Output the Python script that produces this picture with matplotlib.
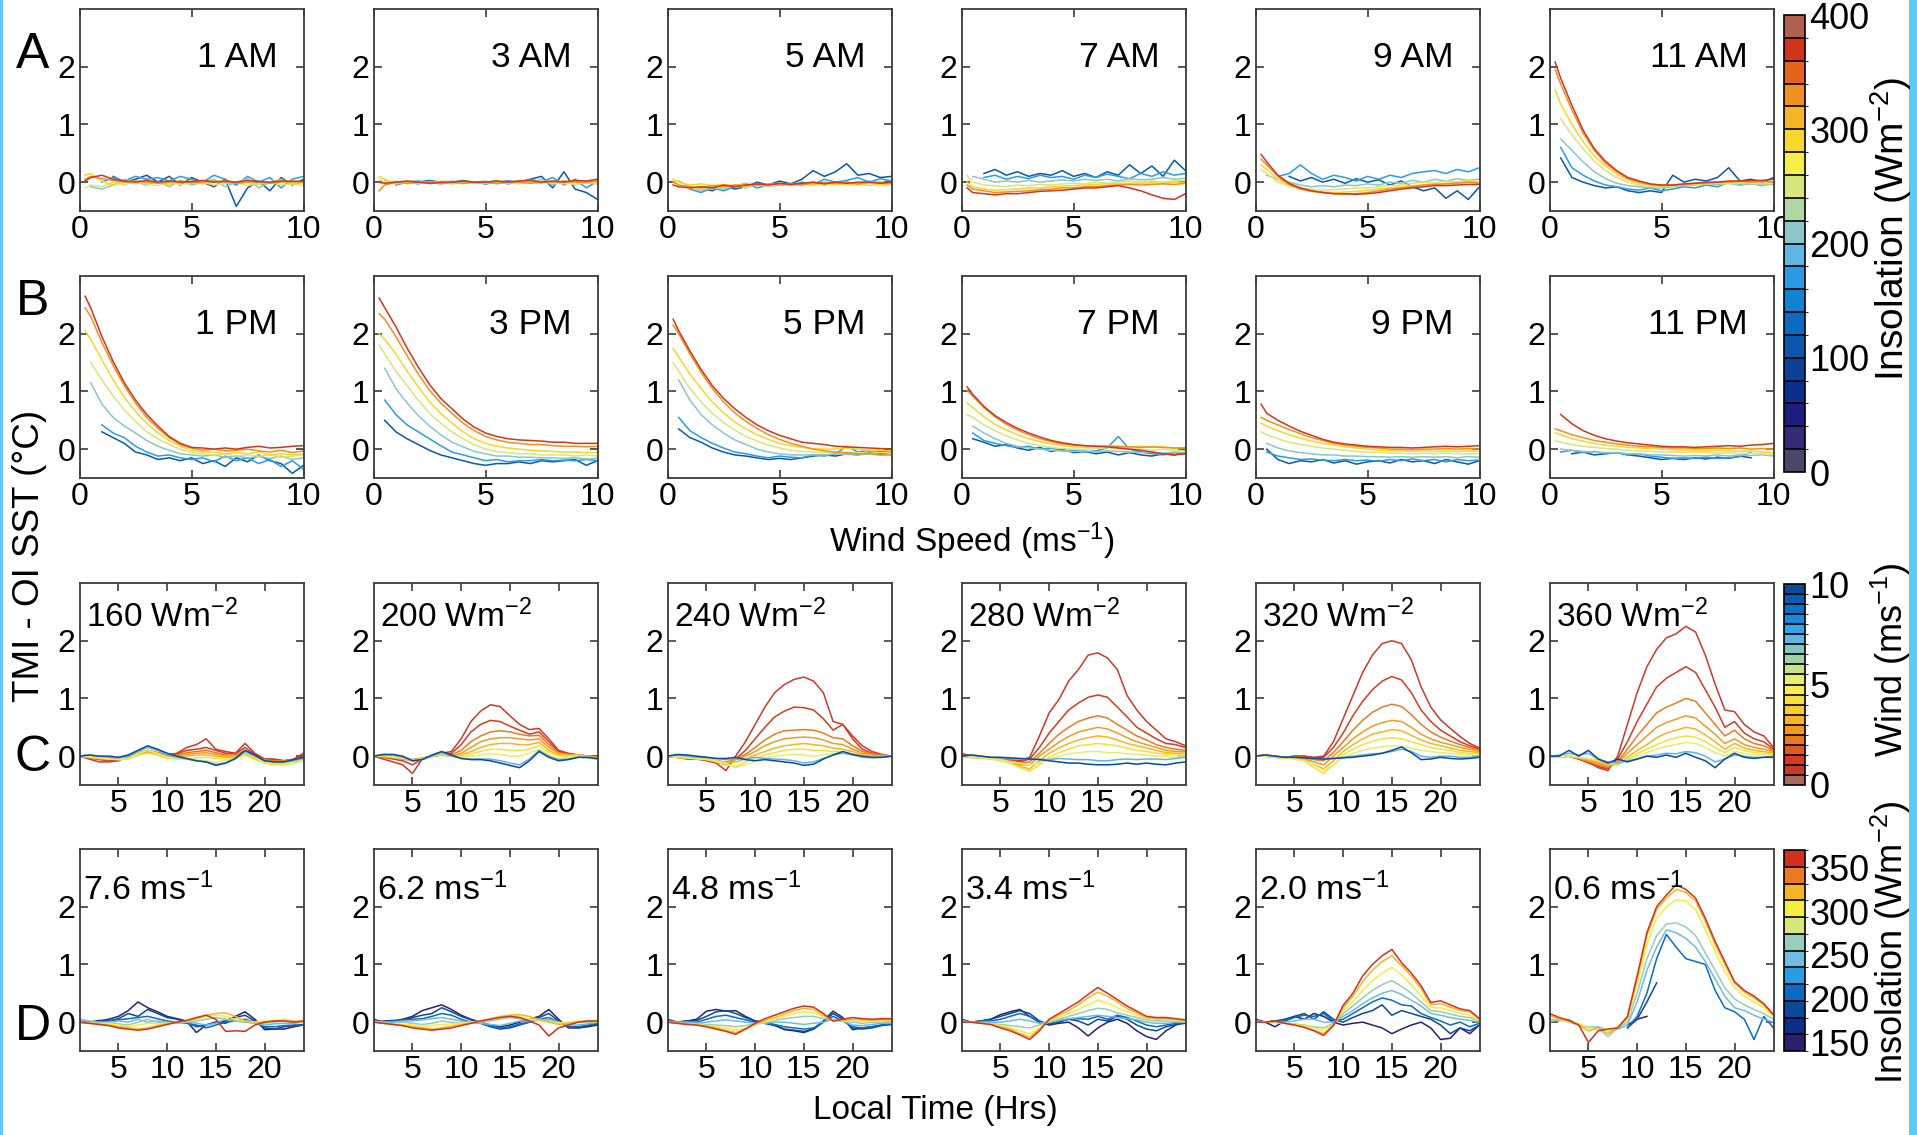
import matplotlib
matplotlib.use("Agg")
import matplotlib.pyplot as plt
import numpy as np
from matplotlib.cm import ScalarMappable
from matplotlib.colors import BoundaryNorm, ListedColormap
from matplotlib.patches import Rectangle

plt.rcParams["font.family"] = ["Liberation Sans", "DejaVu Sans"]
plt.rcParams["mathtext.fontset"] = "custom"
plt.rcParams["mathtext.rm"] = "Liberation Sans"
plt.rcParams["mathtext.it"] = "Liberation Sans"

# ---------------------------------------------------------------- data
WIND_SPEED = [0.25, 0.5, 1.0, 1.5, 2.0, 2.5, 3.0, 3.5, 4.0, 4.5, 5.0,
              5.5, 6.0, 6.5, 7.0, 7.5, 8.0, 8.5, 9.0, 9.5, 10.0]
HOURS = list(range(1, 25))

ROW_A_TITLES = ["1 AM", "3 AM", "5 AM", "7 AM", "9 AM", "11 AM"]
ROW_B_TITLES = ["1 PM", "3 PM", "5 PM", "7 PM", "9 PM", "11 PM"]
ROW_C_INSOL = [160, 200, 240, 280, 320, 360]
ROW_D_WIND = [7.6, 6.2, 4.8, 3.4, 2.0, 0.6]

# SST anomaly vs wind speed, keyed by insolation bin (W m-2)
A_1AM = {
    110: [None, None, None, 0.1, 0.0, 0.05, 0.12, 0.0, 0.1, -0.05, 0.08, 0.0, -0.08, 0.05, -0.42, -0.1, 0.02, -0.15, 0.08, -0.05, 0.05],
    160: [None, None, 0.0, 0.08, 0.02, 0.1, 0.05, 0.08, 0.02, 0.1, 0.05, 0.0, 0.12, 0.05, -0.05, 0.1, 0.0, 0.08, -0.1, 0.05, 0.1],
    200: [None, -0.08, -0.12, -0.05, 0.05, 0.0, -0.05, 0.02, -0.08, 0.03, -0.05, 0.0, 0.05, -0.08, 0.0, 0.06, -0.1, 0.0, 0.05, -0.05, 0.0],
    240: [-0.1, -0.05, -0.08, 0.0, -0.05, 0.02, -0.03, -0.06, 0.0, -0.04, -0.02, 0.0, -0.05, -0.02, 0.0, -0.06, -0.02, 0.0, -0.05, -0.03, -0.06],
    280: [0.12, 0.15, 0.02, -0.05, 0.0, -0.03, 0.02, 0.0, -0.04, 0.0, 0.02, -0.03, 0.0, 0.02, -0.02, 0.0, -0.04, 0.0, 0.03, -0.02, 0.0],
    320: [0.05, 0.1, 0.06, 0.03, 0.0, 0.02, 0.0, -0.02, 0.0, 0.02, -0.01, 0.0, 0.02, 0.0, -0.02, 0.0, 0.01, -0.02, 0.0, 0.02, 0.0],
    370: [0.02, 0.08, 0.12, 0.05, 0.02, 0.0, 0.03, 0.0, 0.02, 0.0, 0.01, 0.03, 0.0, 0.02, 0.0, 0.03, 0.01, 0.0, 0.02, 0.01, 0.02],
}
A_3AM = {
    110: [None, None, None, -0.02, 0.0, 0.03, 0.0, -0.02, 0.02, 0.0, -0.03, 0.0, 0.02, 0.0, 0.05, 0.1, -0.1, 0.18, -0.12, -0.18, -0.3],
    160: [None, None, -0.05, 0.0, -0.03, 0.02, -0.02, 0.0, 0.03, -0.02, 0.0, 0.02, -0.03, 0.0, 0.05, 0.0, 0.08, -0.05, 0.05, -0.1, 0.02],
    200: [None, 0.02, -0.02, 0.0, 0.03, -0.03, 0.0, 0.02, -0.02, 0.0, 0.02, -0.03, 0.0, 0.02, 0.0, 0.05, -0.05, 0.02, -0.05, 0.0, -0.03],
    240: [0.05, 0.0, 0.02, -0.03, 0.0, -0.02, 0.02, 0.0, -0.03, 0.0, -0.02, 0.0, 0.0, -0.03, 0.0, 0.02, -0.02, 0.0, -0.04, 0.0, -0.02],
    280: [0.1, 0.05, -0.03, 0.0, -0.02, 0.0, 0.0, -0.03, 0.0, -0.02, 0.0, 0.0, -0.02, 0.0, 0.0, -0.02, 0.0, -0.03, 0.0, -0.02, 0.0],
    320: [-0.15, -0.05, 0.0, -0.02, 0.0, 0.0, -0.03, 0.0, -0.02, 0.0, 0.0, -0.02, 0.0, 0.0, -0.02, 0.0, 0.0, 0.02, 0.0, 0.0, 0.02],
    370: [0.0, -0.02, 0.0, 0.02, 0.0, -0.02, 0.0, 0.0, 0.02, 0.0, 0.0, 0.02, 0.0, 0.02, 0.03, 0.0, 0.02, 0.0, 0.03, 0.02, 0.05],
}
A_5AM = {
    110: [None, None, None, -0.1, -0.15, -0.05, -0.12, -0.08, 0.0, -0.05, 0.02, -0.03, 0.05, 0.2, 0.1, 0.18, 0.32, 0.12, 0.15, 0.08, 0.1],
    160: [None, None, -0.12, -0.18, -0.1, -0.15, -0.08, -0.02, -0.1, -0.05, -0.02, -0.06, 0.0, -0.04, 0.05, 0.0, 0.03, 0.08, 0.0, 0.06, 0.02],
    200: [None, 0.02, -0.08, -0.15, -0.1, -0.12, -0.05, -0.1, -0.02, -0.08, -0.05, -0.03, -0.06, 0.0, -0.05, -0.02, 0.0, -0.04, 0.02, -0.03, 0.0],
    240: [0.03, -0.05, -0.1, -0.12, -0.08, -0.1, -0.06, -0.08, -0.05, -0.07, -0.04, -0.06, -0.03, -0.05, -0.04, -0.02, -0.05, -0.03, -0.06, -0.04, -0.05],
    280: [0.05, 0.0, -0.05, -0.03, -0.06, -0.04, -0.06, -0.03, -0.05, -0.04, -0.02, -0.05, -0.03, -0.05, -0.02, -0.04, -0.03, -0.05, -0.02, -0.04, -0.03],
    320: [0.0, -0.05, -0.08, -0.1, -0.06, -0.08, -0.05, -0.06, -0.05, -0.03, -0.05, -0.02, -0.04, -0.02, 0.0, -0.02, 0.0, -0.03, 0.0, 0.0, -0.02],
    370: [-0.05, -0.08, -0.1, -0.08, -0.1, -0.05, -0.08, -0.05, -0.03, -0.05, -0.02, -0.04, -0.02, 0.0, -0.03, 0.0, -0.02, 0.0, 0.0, -0.02, 0.0],
}
A_7AM = {
    110: [None, None, 0.15, 0.22, 0.12, 0.18, 0.1, 0.15, 0.12, 0.2, 0.1, 0.15, 0.08, 0.18, 0.12, 0.3, 0.15, 0.28, 0.1, 0.38, 0.2],
    160: [None, None, 0.08, 0.12, 0.05, 0.1, 0.06, 0.12, 0.08, 0.1, 0.05, 0.12, 0.08, 0.14, 0.1, 0.06, 0.15, 0.1, 0.18, 0.12, 0.15],
    200: [None, 0.1, 0.05, 0.0, 0.02, 0.0, 0.03, 0.0, 0.02, 0.04, 0.02, 0.05, 0.03, 0.05, 0.02, 0.06, 0.04, 0.05, 0.08, 0.05, 0.07],
    240: [0.12, 0.0, -0.05, -0.06, -0.08, -0.05, -0.06, -0.04, -0.05, -0.03, -0.02, -0.03, 0.0, -0.02, 0.0, 0.02, 0.0, 0.02, 0.0, 0.02, 0.03],
    280: [0.0, -0.08, -0.12, -0.14, -0.13, -0.12, -0.1, -0.1, -0.08, -0.07, -0.06, -0.05, -0.04, -0.03, -0.03, -0.02, -0.02, -0.01, -0.02, 0.0, -0.01],
    320: [-0.05, -0.12, -0.15, -0.18, -0.17, -0.16, -0.15, -0.13, -0.12, -0.1, -0.1, -0.08, -0.08, -0.06, -0.05, -0.04, -0.05, -0.04, -0.03, -0.04, -0.02],
    370: [-0.1, -0.18, -0.2, -0.22, -0.2, -0.2, -0.18, -0.16, -0.15, -0.14, -0.12, -0.1, -0.1, -0.08, -0.06, -0.1, -0.15, -0.22, -0.28, -0.3, -0.2],
}
A_9AM = {
    110: [None, None, None, 0.1, 0.02, 0.08, 0.0, 0.05, -0.02, 0.06, 0.0, 0.04, -0.05, 0.02, -0.08, -0.15, -0.1, -0.28, -0.15, -0.3, -0.08],
    160: [None, None, 0.1, 0.15, 0.3, 0.15, 0.05, 0.12, 0.08, 0.02, 0.1, 0.05, 0.12, 0.08, 0.15, 0.18, 0.2, 0.15, 0.22, 0.18, 0.25],
    200: [None, 0.12, 0.05, 0.0, -0.05, -0.08, -0.06, -0.08, -0.05, -0.06, -0.03, -0.05, 0.0, -0.02, 0.03, 0.0, 0.05, 0.02, 0.06, 0.03, 0.05],
    240: [0.22, 0.15, 0.0, -0.06, -0.1, -0.12, -0.14, -0.13, -0.12, -0.1, -0.1, -0.08, -0.06, -0.05, -0.02, 0.0, -0.02, 0.02, 0.0, 0.03, 0.0],
    280: [0.3, 0.22, 0.05, -0.06, -0.12, -0.15, -0.17, -0.18, -0.17, -0.16, -0.14, -0.12, -0.1, -0.08, -0.06, -0.05, -0.03, -0.02, 0.0, 0.02, 0.0],
    320: [0.4, 0.3, 0.1, -0.04, -0.12, -0.16, -0.18, -0.2, -0.21, -0.2, -0.18, -0.15, -0.12, -0.1, -0.08, -0.05, -0.04, -0.03, -0.02, 0.0, -0.02],
    370: [0.48, 0.35, 0.12, -0.02, -0.1, -0.15, -0.18, -0.2, -0.2, -0.21, -0.2, -0.18, -0.15, -0.12, -0.1, -0.08, -0.06, -0.06, -0.05, -0.04, -0.04],
}
A_11AM = {
    110: [None, 0.42, 0.08, 0.0, -0.06, -0.1, -0.08, -0.15, -0.18, -0.15, -0.18, 0.12, 0.0, 0.05, 0.02, 0.08, 0.25, 0.02, 0.05, 0.0, 0.08],
    160: [None, 0.6, 0.25, 0.12, 0.02, -0.05, -0.08, -0.12, -0.14, -0.1, -0.15, -0.12, -0.08, -0.1, -0.05, -0.08, 0.0, -0.05, -0.02, -0.06, 0.0],
    200: [None, 0.75, 0.55, 0.35, 0.18, 0.06, -0.02, -0.06, -0.08, -0.1, -0.1, -0.08, -0.06, -0.05, -0.03, -0.04, -0.02, -0.05, -0.03, -0.05, -0.04],
    240: [None, 1.1, 0.82, 0.58, 0.36, 0.2, 0.08, 0.0, -0.05, -0.07, -0.08, -0.06, -0.05, -0.04, -0.03, -0.02, -0.03, 0.0, -0.02, -0.03, -0.02],
    280: [1.6, 1.35, 1.0, 0.7, 0.45, 0.28, 0.14, 0.04, -0.02, -0.05, -0.06, -0.06, -0.05, -0.03, -0.02, -0.02, 0.0, -0.02, 0.0, -0.02, 0.0],
    320: [1.95, 1.7, 1.25, 0.85, 0.55, 0.33, 0.18, 0.06, 0.0, -0.04, -0.06, -0.05, -0.04, -0.02, -0.02, 0.0, 0.0, 0.02, 0.0, 0.02, 0.0],
    370: [2.08, 1.8, 1.33, 0.9, 0.58, 0.36, 0.2, 0.08, 0.02, -0.03, -0.05, -0.05, -0.03, -0.02, 0.0, 0.0, 0.02, 0.02, 0.03, 0.03, 0.05],
}
B_1PM = {
    110: [None, None, 0.3, 0.2, 0.1, -0.05, -0.1, -0.18, -0.15, -0.2, -0.15, -0.25, -0.2, -0.3, -0.15, -0.22, -0.1, -0.2, -0.25, -0.42, -0.28],
    160: [None, None, 0.42, 0.28, 0.2, 0.05, -0.05, -0.12, -0.1, -0.15, -0.18, -0.15, -0.22, -0.12, -0.2, -0.15, -0.25, -0.18, -0.3, -0.2, -0.35],
    200: [None, 1.15, 0.78, 0.55, 0.4, 0.28, 0.15, 0.05, -0.02, -0.08, -0.1, -0.12, -0.1, -0.14, -0.12, -0.15, -0.13, -0.16, -0.12, -0.18, -0.15],
    240: [None, 1.5, 1.2, 0.92, 0.68, 0.48, 0.3, 0.18, 0.08, 0.0, -0.06, -0.08, -0.1, -0.08, -0.12, -0.1, -0.12, -0.1, -0.14, -0.12, -0.1],
    280: [2.05, 1.9, 1.55, 1.2, 0.9, 0.65, 0.45, 0.28, 0.15, 0.05, -0.02, -0.05, -0.05, -0.08, -0.06, -0.08, -0.05, -0.1, -0.08, -0.1, -0.08],
    320: [2.45, 2.3, 1.85, 1.45, 1.1, 0.8, 0.55, 0.36, 0.2, 0.08, 0.02, -0.02, 0.0, -0.03, -0.02, 0.0, -0.03, -0.05, -0.02, -0.06, -0.03],
    370: [2.65, 2.45, 1.95, 1.52, 1.15, 0.85, 0.6, 0.4, 0.22, 0.1, 0.03, 0.02, 0.0, 0.02, 0.0, 0.03, 0.05, 0.02, 0.03, 0.05, 0.06],
}
B_3PM = {
    110: [None, 0.5, 0.3, 0.18, 0.08, -0.02, -0.1, -0.15, -0.2, -0.25, -0.28, -0.25, -0.25, -0.22, -0.25, -0.2, -0.22, -0.2, -0.18, -0.28, -0.2],
    160: [None, 0.85, 0.6, 0.42, 0.3, 0.18, 0.06, -0.05, -0.1, -0.15, -0.2, -0.18, -0.22, -0.2, -0.2, -0.18, -0.2, -0.19, -0.2, -0.18, -0.2],
    200: [None, 1.4, 1.05, 0.8, 0.58, 0.4, 0.25, 0.12, 0.04, -0.04, -0.08, -0.12, -0.12, -0.14, -0.14, -0.15, -0.15, -0.16, -0.15, -0.17, -0.16],
    240: [1.8, 1.65, 1.35, 1.1, 0.85, 0.62, 0.45, 0.3, 0.18, 0.08, 0.0, -0.04, -0.06, -0.08, -0.08, -0.1, -0.1, -0.1, -0.12, -0.1, -0.12],
    280: [2.0, 1.9, 1.65, 1.35, 1.08, 0.82, 0.62, 0.45, 0.3, 0.18, 0.1, 0.05, 0.02, 0.0, -0.02, -0.03, -0.04, -0.05, -0.05, -0.06, -0.06],
    320: [2.35, 2.25, 1.95, 1.62, 1.3, 1.02, 0.8, 0.62, 0.45, 0.32, 0.22, 0.16, 0.12, 0.1, 0.08, 0.08, 0.06, 0.05, 0.05, 0.04, 0.05],
    370: [2.62, 2.45, 2.12, 1.75, 1.42, 1.12, 0.88, 0.7, 0.52, 0.38, 0.28, 0.22, 0.18, 0.16, 0.15, 0.14, 0.12, 0.12, 0.1, 0.1, 0.1],
}
B_5PM = {
    110: [None, 0.35, 0.2, 0.12, 0.02, -0.05, -0.1, -0.12, -0.15, -0.18, -0.16, -0.18, -0.15, -0.12, -0.1, -0.12, -0.08, -0.1, -0.05, -0.08, -0.06],
    160: [None, 0.55, 0.32, 0.2, 0.1, 0.02, -0.05, -0.08, -0.12, -0.15, -0.12, -0.14, -0.15, -0.1, -0.12, -0.08, 0.05, -0.05, -0.02, -0.04, -0.05],
    200: [None, 1.2, 0.85, 0.6, 0.42, 0.28, 0.16, 0.08, 0.0, -0.05, -0.08, -0.1, -0.1, -0.1, -0.1, -0.08, -0.09, -0.1, -0.08, -0.1, -0.09],
    240: [1.5, 1.35, 1.05, 0.82, 0.62, 0.46, 0.33, 0.22, 0.14, 0.07, 0.02, -0.02, -0.04, -0.05, -0.06, -0.05, -0.06, -0.06, -0.07, -0.06, -0.07],
    280: [1.75, 1.6, 1.3, 1.05, 0.82, 0.63, 0.47, 0.35, 0.25, 0.17, 0.1, 0.06, 0.03, 0.01, 0.0, 0.0, 0.02, 0.0, -0.02, -0.02, -0.03],
    320: [2.15, 2.0, 1.65, 1.33, 1.05, 0.82, 0.63, 0.48, 0.36, 0.25, 0.17, 0.1, 0.05, 0.0, -0.03, -0.05, -0.06, -0.08, -0.08, -0.1, -0.1],
    370: [2.25, 2.05, 1.7, 1.38, 1.1, 0.88, 0.7, 0.55, 0.42, 0.32, 0.24, 0.18, 0.12, 0.1, 0.08, 0.05, 0.04, 0.03, 0.02, 0.01, 0.0],
}
B_7PM = {
    110: [None, 0.18, 0.12, 0.05, 0.08, 0.02, -0.02, 0.03, -0.04, 0.0, -0.06, -0.04, -0.08, -0.05, -0.1, -0.06, -0.1, -0.12, -0.08, -0.1, -0.05],
    160: [None, 0.28, 0.15, 0.1, 0.06, 0.03, 0.05, 0.0, 0.02, -0.03, -0.02, -0.05, -0.03, 0.02, 0.22, 0.0, -0.05, -0.08, -0.1, -0.06, -0.08],
    200: [None, 0.4, 0.28, 0.18, 0.1, 0.05, 0.02, 0.0, -0.02, -0.03, -0.04, -0.03, -0.05, -0.03, -0.04, -0.05, -0.06, -0.05, -0.07, -0.05, -0.06],
    240: [0.6, 0.55, 0.42, 0.32, 0.23, 0.16, 0.1, 0.06, 0.03, 0.01, 0.0, 0.0, 0.01, 0.02, 0.0, 0.02, 0.0, -0.02, 0.0, -0.02, -0.03],
    280: [0.8, 0.72, 0.56, 0.43, 0.33, 0.25, 0.18, 0.13, 0.09, 0.06, 0.04, 0.03, 0.04, 0.05, 0.06, 0.04, 0.05, 0.03, 0.04, 0.02, 0.03],
    320: [1.02, 0.92, 0.72, 0.56, 0.43, 0.33, 0.25, 0.18, 0.13, 0.09, 0.07, 0.06, 0.05, 0.05, 0.04, 0.04, 0.03, 0.04, 0.03, 0.02, 0.02],
    370: [1.08, 0.95, 0.74, 0.58, 0.46, 0.36, 0.28, 0.21, 0.15, 0.11, 0.08, 0.06, 0.05, 0.04, 0.02, 0.0, -0.02, -0.05, -0.08, -0.1, -0.08],
}
B_9PM = {
    110: [None, 0.0, -0.18, -0.25, -0.2, -0.22, -0.18, -0.24, -0.2, -0.26, -0.22, -0.2, -0.24, -0.18, -0.22, -0.2, -0.25, -0.18, -0.22, -0.26, -0.2],
    160: [None, -0.05, -0.12, -0.15, -0.18, -0.17, -0.19, -0.2, -0.18, -0.2, -0.19, -0.21, -0.18, -0.2, -0.17, -0.2, -0.18, -0.22, -0.18, -0.2, -0.19],
    200: [None, 0.1, 0.02, -0.03, -0.06, -0.08, -0.1, -0.1, -0.12, -0.12, -0.13, -0.13, -0.14, -0.13, -0.14, -0.13, -0.14, -0.13, -0.15, -0.13, -0.14],
    240: [0.3, 0.25, 0.18, 0.12, 0.08, 0.05, 0.02, 0.0, -0.02, -0.04, -0.05, -0.06, -0.07, -0.07, -0.08, -0.07, -0.08, -0.07, -0.08, -0.08, -0.08],
    280: [0.45, 0.4, 0.32, 0.25, 0.19, 0.14, 0.1, 0.07, 0.04, 0.02, 0.0, -0.02, -0.03, -0.03, -0.04, -0.03, -0.04, -0.03, -0.04, -0.03, -0.04],
    320: [0.55, 0.5, 0.42, 0.34, 0.27, 0.2, 0.15, 0.1, 0.07, 0.05, 0.03, 0.02, 0.0, 0.0, -0.01, 0.0, 0.0, 0.01, 0.0, 0.01, 0.0],
    370: [0.78, 0.62, 0.5, 0.4, 0.31, 0.24, 0.17, 0.12, 0.09, 0.07, 0.05, 0.04, 0.03, 0.03, 0.02, 0.03, 0.04, 0.05, 0.04, 0.05, 0.06],
}
B_11PM = {
    110: [None, None, -0.08, -0.05, -0.1, -0.08, -0.06, -0.1, -0.12, -0.15, -0.18, -0.16, -0.18, -0.15, -0.17, -0.14, -0.16, -0.12, -0.15, None, None],
    160: [None, -0.05, -0.02, -0.06, -0.04, -0.08, -0.06, -0.1, -0.08, -0.12, -0.14, -0.16, -0.15, -0.16, -0.14, -0.16, -0.15, -0.13, -0.05, None, None],
    200: [None, 0.0, -0.02, -0.04, -0.05, -0.06, -0.06, -0.08, -0.08, -0.1, -0.1, -0.11, -0.12, -0.11, -0.12, -0.1, -0.12, -0.1, -0.11, -0.1, -0.12],
    240: [0.15, 0.12, 0.08, 0.05, 0.03, 0.01, 0.0, -0.02, -0.03, -0.04, -0.05, -0.05, -0.06, -0.05, -0.06, -0.07, -0.06, -0.08, -0.07, -0.08, -0.09],
    280: [0.28, 0.25, 0.18, 0.14, 0.1, 0.07, 0.05, 0.03, 0.02, 0.01, 0.0, -0.01, -0.02, -0.02, -0.03, -0.02, -0.03, -0.04, -0.03, -0.05, -0.06],
    320: [0.35, 0.32, 0.25, 0.2, 0.15, 0.12, 0.09, 0.07, 0.05, 0.04, 0.03, 0.02, 0.02, 0.01, 0.01, 0.02, 0.01, 0.02, 0.0, 0.01, 0.0],
    370: [None, 0.6, 0.44, 0.32, 0.24, 0.18, 0.14, 0.11, 0.09, 0.07, 0.05, 0.04, 0.04, 0.03, 0.04, 0.05, 0.06, 0.05, 0.07, 0.08, 0.1],
}

# SST anomaly vs local time at fixed insolation, keyed by wind bin (m s-1)
C_160 = {
    0.6: [0.0, -0.05, -0.1, -0.1, -0.08, 0.0, 0.05, 0.08, 0.05, 0.02, 0.05, 0.15, 0.2, 0.3, 0.12, 0.08, 0.05, 0.22, 0.05, -0.05, -0.05, -0.08, -0.05, 0.05],
    1.3: [0.0, -0.03, -0.06, -0.08, -0.06, -0.02, 0.05, 0.1, 0.06, 0.02, 0.04, 0.1, 0.12, 0.15, 0.1, 0.05, 0.04, 0.15, 0.03, -0.05, -0.06, -0.08, -0.06, 0.0],
    2.0: [0.0, -0.02, -0.05, -0.06, -0.05, -0.02, 0.05, 0.1, 0.06, 0.02, 0.02, 0.06, 0.08, 0.1, 0.06, 0.02, 0.02, 0.1, 0.0, -0.06, -0.08, -0.08, -0.06, -0.02],
    2.7: [0.0, -0.02, -0.04, -0.05, -0.05, -0.03, 0.03, 0.08, 0.05, 0.0, 0.0, 0.03, 0.05, 0.06, 0.03, 0.0, 0.0, 0.06, -0.02, -0.08, -0.1, -0.1, -0.08, -0.04],
    3.4: [0.0, -0.02, -0.04, -0.05, -0.06, -0.04, 0.02, 0.06, 0.03, -0.02, -0.02, 0.0, 0.02, 0.02, 0.0, -0.02, -0.02, 0.04, -0.04, -0.1, -0.12, -0.12, -0.1, -0.06],
    4.1: [0.0, -0.02, -0.03, -0.05, -0.06, -0.05, 0.02, 0.05, 0.02, -0.04, -0.05, -0.04, -0.03, -0.02, -0.04, -0.05, -0.04, 0.02, -0.06, -0.12, -0.15, -0.15, -0.12, -0.08],
    5.0: [0.0, 0.0, -0.02, -0.04, -0.05, -0.04, 0.05, 0.1, 0.05, -0.02, -0.04, -0.05, -0.06, -0.08, -0.1, -0.08, -0.04, 0.06, -0.02, -0.1, -0.12, -0.12, -0.1, -0.06],
    7.0: [0.0, 0.02, 0.0, -0.02, -0.03, 0.0, 0.08, 0.15, 0.1, 0.02, -0.02, -0.05, -0.08, -0.1, -0.14, -0.12, -0.05, 0.08, 0.0, -0.08, -0.1, -0.1, -0.08, -0.04],
    9.5: [0.0, 0.02, 0.0, 0.0, -0.02, 0.02, 0.1, 0.18, 0.12, 0.05, 0.0, -0.04, -0.08, -0.1, -0.16, -0.12, -0.04, 0.1, 0.02, -0.08, -0.1, -0.1, -0.06, -0.02],
}
C_200 = {
    0.6: [0.0, -0.05, -0.1, -0.15, -0.3, -0.05, 0.0, 0.05, 0.08, 0.3, 0.6, 0.78, 0.89, 0.86, 0.7, 0.55, 0.46, 0.48, 0.3, 0.1, 0.05, 0.02, 0.0, -0.05],
    1.3: [0.0, -0.02, -0.05, -0.08, -0.15, -0.05, 0.0, 0.03, 0.05, 0.2, 0.42, 0.55, 0.62, 0.6, 0.52, 0.45, 0.38, 0.42, 0.25, 0.08, 0.04, 0.02, 0.0, -0.03],
    2.0: [0.0, -0.02, -0.03, -0.05, -0.08, -0.04, 0.0, 0.02, 0.02, 0.1, 0.25, 0.35, 0.42, 0.44, 0.42, 0.38, 0.35, 0.36, 0.2, 0.06, 0.03, 0.02, 0.0, -0.02],
    2.7: [0.0, 0.0, -0.02, -0.04, -0.06, -0.03, 0.0, 0.02, 0.0, 0.05, 0.15, 0.25, 0.3, 0.32, 0.32, 0.3, 0.28, 0.3, 0.15, 0.05, 0.02, 0.02, 0.0, -0.02],
    3.4: [0.0, 0.0, -0.02, -0.04, -0.06, -0.04, 0.0, 0.02, 0.0, 0.02, 0.08, 0.15, 0.2, 0.22, 0.22, 0.2, 0.2, 0.24, 0.1, 0.02, 0.02, 0.02, 0.0, -0.02],
    4.1: [0.0, 0.0, -0.02, -0.04, -0.07, -0.05, 0.0, 0.03, 0.0, 0.0, 0.04, 0.08, 0.12, 0.12, 0.1, 0.1, 0.12, 0.18, 0.06, 0.0, 0.0, 0.0, -0.02, -0.04],
    5.0: [0.0, 0.02, 0.0, -0.03, -0.08, -0.06, 0.0, 0.05, 0.0, -0.02, 0.0, 0.02, 0.04, 0.03, 0.0, 0.0, 0.05, 0.12, 0.02, -0.04, -0.02, 0.0, -0.02, -0.04],
    7.0: [0.0, 0.02, 0.02, -0.02, -0.08, -0.06, 0.0, 0.06, 0.0, -0.04, -0.05, -0.05, -0.05, -0.08, -0.12, -0.15, -0.05, 0.1, 0.0, -0.06, -0.05, -0.02, -0.03, -0.05],
    9.5: [0.0, 0.03, 0.03, 0.0, -0.08, -0.06, 0.02, 0.08, 0.02, -0.04, -0.06, -0.06, -0.08, -0.12, -0.16, -0.2, -0.08, 0.08, -0.02, -0.08, -0.06, -0.02, -0.02, -0.04],
}
C_240 = {
    0.6: [0.0, -0.02, -0.05, -0.05, -0.08, -0.12, -0.25, 0.0, 0.25, 0.55, 0.85, 1.1, 1.24, 1.33, 1.37, 1.3, 1.1, 0.6, 0.55, 0.35, 0.18, 0.08, 0.03, 0.0],
    1.3: [0.0, -0.02, -0.04, -0.05, -0.06, -0.1, -0.15, -0.05, 0.1, 0.3, 0.5, 0.68, 0.78, 0.85, 0.84, 0.8, 0.65, 0.45, 0.55, 0.3, 0.12, 0.05, 0.02, 0.0],
    2.0: [0.0, -0.02, -0.03, -0.04, -0.05, -0.08, -0.12, -0.05, 0.03, 0.15, 0.28, 0.38, 0.44, 0.45, 0.46, 0.45, 0.4, 0.32, 0.3, 0.18, 0.08, 0.04, 0.02, 0.0],
    2.7: [0.0, -0.02, -0.03, -0.04, -0.05, -0.08, -0.1, -0.06, 0.0, 0.08, 0.18, 0.25, 0.3, 0.32, 0.33, 0.32, 0.28, 0.22, 0.2, 0.12, 0.05, 0.02, 0.0, 0.0],
    3.4: [0.0, -0.02, -0.03, -0.04, -0.06, -0.08, -0.12, -0.1, -0.05, 0.02, 0.08, 0.14, 0.18, 0.2, 0.22, 0.2, 0.18, 0.14, 0.12, 0.08, 0.03, 0.0, 0.0, 0.0],
    4.1: [0.0, -0.02, -0.03, -0.05, -0.06, -0.1, -0.15, -0.18, -0.1, -0.04, 0.02, 0.06, 0.1, 0.12, 0.12, 0.1, 0.1, 0.08, 0.08, 0.04, 0.0, -0.02, -0.02, 0.0],
    5.0: [0.0, -0.02, -0.02, -0.04, -0.05, -0.08, -0.12, -0.2, -0.15, -0.08, -0.03, 0.0, 0.02, 0.03, 0.02, 0.0, 0.02, 0.05, 0.06, 0.02, -0.02, -0.02, -0.02, 0.0],
    7.0: [0.0, 0.02, 0.0, -0.02, -0.02, -0.04, -0.06, -0.05, -0.05, -0.02, -0.04, -0.05, -0.06, -0.08, -0.12, -0.1, -0.04, 0.02, 0.05, 0.02, -0.02, -0.03, -0.02, 0.0],
    9.5: [0.0, 0.03, 0.02, 0.0, -0.02, -0.04, -0.04, -0.02, -0.06, -0.08, -0.06, -0.08, -0.1, -0.12, -0.16, -0.14, -0.05, 0.02, 0.08, 0.03, 0.0, -0.02, -0.02, 0.0],
}
C_280 = {
    0.6: [0.05, 0.0, -0.02, -0.03, -0.05, -0.06, -0.08, -0.02, 0.35, 0.75, 0.98, 1.3, 1.5, 1.75, 1.79, 1.7, 1.5, 1.05, 0.8, 0.6, 0.45, 0.3, 0.25, 0.18],
    1.3: [0.02, -0.02, -0.02, -0.03, -0.05, -0.06, -0.1, -0.05, 0.15, 0.4, 0.6, 0.8, 0.92, 1.02, 1.06, 1.02, 0.85, 0.68, 0.5, 0.4, 0.3, 0.22, 0.2, 0.15],
    2.0: [0.0, -0.02, -0.02, -0.04, -0.05, -0.08, -0.12, -0.1, 0.05, 0.22, 0.38, 0.5, 0.6, 0.66, 0.7, 0.66, 0.55, 0.45, 0.35, 0.28, 0.2, 0.15, 0.12, 0.1],
    2.7: [0.0, -0.02, -0.03, -0.04, -0.06, -0.1, -0.15, -0.15, 0.0, 0.12, 0.24, 0.34, 0.42, 0.46, 0.5, 0.47, 0.4, 0.32, 0.25, 0.2, 0.15, 0.1, 0.08, 0.08],
    3.4: [0.0, -0.02, -0.03, -0.05, -0.06, -0.12, -0.18, -0.22, -0.08, 0.05, 0.14, 0.22, 0.28, 0.32, 0.35, 0.33, 0.28, 0.22, 0.18, 0.14, 0.1, 0.06, 0.05, 0.05],
    4.1: [0.0, -0.02, -0.03, -0.05, -0.08, -0.12, -0.2, -0.26, -0.15, -0.02, 0.06, 0.12, 0.18, 0.2, 0.22, 0.2, 0.18, 0.14, 0.1, 0.08, 0.05, 0.03, 0.02, 0.02],
    5.0: [0.0, 0.0, -0.02, -0.04, -0.06, -0.1, -0.12, -0.15, -0.12, -0.05, 0.0, 0.04, 0.06, 0.08, 0.08, 0.06, 0.06, 0.04, 0.03, 0.02, 0.0, 0.0, -0.02, 0.0],
    7.0: [0.0, 0.02, 0.0, -0.02, -0.03, -0.05, -0.05, -0.06, -0.05, -0.06, -0.04, -0.05, -0.06, -0.06, -0.08, -0.08, -0.06, -0.05, -0.06, -0.05, -0.05, -0.06, -0.04, -0.02],
    9.5: [0.0, 0.02, 0.0, -0.02, -0.02, -0.03, -0.04, -0.05, -0.06, -0.08, -0.1, -0.12, -0.12, -0.14, -0.15, -0.15, -0.14, -0.12, -0.14, -0.12, -0.14, -0.15, -0.12, -0.1],
}
C_320 = {
    0.6: [0.0, 0.02, 0.0, -0.02, 0.0, 0.0, -0.02, 0.0, 0.25, 0.65, 1.05, 1.45, 1.75, 1.95, 2.0, 1.95, 1.67, 1.2, 0.85, 0.63, 0.48, 0.34, 0.22, 0.14],
    1.3: [0.0, 0.0, -0.02, -0.02, 0.0, 0.0, -0.04, -0.02, 0.15, 0.4, 0.7, 0.95, 1.15, 1.3, 1.38, 1.32, 1.1, 0.8, 0.6, 0.45, 0.35, 0.25, 0.18, 0.12],
    2.0: [0.0, 0.0, -0.02, -0.02, -0.02, -0.02, -0.06, -0.08, 0.06, 0.25, 0.45, 0.62, 0.76, 0.85, 0.9, 0.86, 0.72, 0.55, 0.42, 0.33, 0.26, 0.2, 0.15, 0.1],
    2.7: [0.0, 0.0, -0.02, -0.03, -0.03, -0.04, -0.1, -0.15, 0.0, 0.15, 0.3, 0.42, 0.52, 0.58, 0.62, 0.6, 0.5, 0.38, 0.3, 0.24, 0.2, 0.15, 0.12, 0.08],
    3.4: [0.0, 0.0, -0.02, -0.03, -0.04, -0.06, -0.15, -0.22, -0.08, 0.08, 0.2, 0.3, 0.38, 0.42, 0.46, 0.44, 0.36, 0.28, 0.22, 0.18, 0.14, 0.1, 0.08, 0.06],
    4.1: [0.0, 0.0, -0.02, -0.03, -0.05, -0.08, -0.2, -0.3, -0.15, 0.02, 0.12, 0.2, 0.26, 0.3, 0.32, 0.3, 0.25, 0.2, 0.15, 0.12, 0.1, 0.06, 0.05, 0.04],
    5.0: [0.0, 0.0, -0.02, -0.03, -0.05, -0.08, -0.15, -0.25, -0.15, -0.02, 0.05, 0.1, 0.14, 0.16, 0.18, 0.17, 0.14, 0.1, 0.08, 0.06, 0.05, 0.03, 0.02, 0.02],
    7.0: [0.0, 0.02, 0.0, -0.02, -0.02, -0.03, -0.05, -0.06, -0.04, -0.02, 0.0, 0.02, 0.04, 0.05, 0.08, 0.12, 0.08, 0.0, -0.02, 0.0, 0.0, -0.02, -0.02, 0.0],
    9.5: [0.0, 0.02, 0.0, -0.02, -0.02, -0.03, -0.04, -0.05, -0.04, -0.03, -0.02, 0.0, 0.02, 0.05, 0.1, 0.16, 0.06, -0.06, -0.05, -0.02, -0.04, -0.05, -0.04, -0.02],
}
C_360 = {
    0.6: [0.0, -0.02, 0.0, -0.05, -0.1, -0.2, -0.25, 0.0, 0.55, 1.1, 1.55, 1.85, 2.05, 2.12, 2.25, 2.15, 1.75, 1.25, 0.8, 0.77, 0.55, 0.42, 0.35, 0.15],
    1.3: [0.0, -0.02, 0.0, -0.05, -0.12, -0.18, -0.22, -0.05, 0.25, 0.6, 0.9, 1.2, 1.35, 1.45, 1.55, 1.45, 1.15, 0.85, 0.5, 0.6, 0.4, 0.3, 0.25, 0.12],
    2.0: [0.0, -0.02, 0.0, -0.04, -0.1, -0.15, -0.2, -0.1, 0.12, 0.35, 0.55, 0.75, 0.85, 0.92, 1.0, 0.95, 0.75, 0.55, 0.35, 0.45, 0.3, 0.22, 0.18, 0.1],
    2.7: [0.0, -0.02, 0.0, -0.03, -0.08, -0.12, -0.18, -0.12, 0.05, 0.2, 0.35, 0.5, 0.58, 0.64, 0.7, 0.66, 0.52, 0.38, 0.22, 0.3, 0.2, 0.15, 0.12, 0.08],
    3.4: [0.0, -0.02, 0.0, -0.03, -0.06, -0.1, -0.15, -0.15, -0.02, 0.1, 0.2, 0.32, 0.4, 0.45, 0.5, 0.47, 0.37, 0.25, 0.12, 0.22, 0.14, 0.1, 0.08, 0.05],
    4.1: [0.0, -0.02, 0.0, -0.02, -0.05, -0.08, -0.12, -0.15, -0.05, 0.04, 0.12, 0.2, 0.27, 0.32, 0.35, 0.33, 0.25, 0.15, 0.06, 0.15, 0.1, 0.06, 0.05, 0.03],
    5.0: [0.0, -0.02, 0.0, -0.02, -0.04, -0.06, -0.1, -0.12, -0.06, 0.0, 0.06, 0.12, 0.17, 0.2, 0.24, 0.22, 0.15, 0.06, 0.0, 0.08, 0.05, 0.02, 0.02, 0.0],
    7.0: [0.0, 0.02, 0.05, 0.02, 0.05, -0.05, -0.1, -0.12, -0.08, -0.05, 0.0, 0.02, 0.05, 0.04, 0.08, 0.06, 0.0, -0.1, -0.05, 0.02, 0.0, -0.02, -0.02, -0.02],
    9.5: [0.0, 0.0, 0.1, 0.0, 0.1, -0.05, -0.12, -0.05, -0.1, -0.05, 0.0, -0.02, 0.02, -0.02, 0.05, -0.02, -0.08, -0.2, -0.05, 0.05, -0.02, -0.04, -0.02, -0.02],
}

# SST anomaly vs local time at fixed wind speed, keyed by insolation bin
D_76 = {
    150: [0.0, -0.02, 0.02, 0.05, 0.1, 0.2, 0.35, 0.25, 0.18, 0.1, 0.06, 0.02, -0.18, -0.05, 0.0, 0.02, 0.1, 0.18, 0.05, -0.13, -0.12, -0.12, -0.08, -0.05],
    180: [0.0, 0.0, 0.03, 0.02, 0.06, 0.15, 0.1, 0.22, 0.15, 0.08, 0.05, 0.0, -0.08, -0.05, 0.0, -0.02, 0.08, 0.12, 0.02, -0.1, -0.12, -0.08, -0.06, -0.04],
    210: [0.02, 0.0, 0.0, 0.02, 0.04, 0.06, 0.08, 0.1, 0.06, 0.02, 0.0, -0.02, -0.05, -0.1, -0.05, 0.0, 0.02, 0.05, 0.0, -0.08, -0.08, -0.06, -0.05, -0.05],
    240: [0.05, 0.02, 0.0, 0.0, 0.02, 0.0, 0.05, 0.0, 0.02, 0.0, -0.02, 0.0, -0.02, -0.05, -0.02, 0.05, 0.02, 0.0, -0.02, -0.05, -0.03, -0.02, -0.02, 0.0],
    270: [0.0, 0.0, -0.02, 0.0, -0.03, -0.05, 0.0, 0.05, 0.0, -0.02, 0.0, 0.0, 0.02, 0.05, 0.08, 0.05, 0.02, 0.03, 0.0, -0.02, 0.0, 0.02, 0.0, 0.02],
    300: [0.0, -0.02, -0.02, -0.03, -0.05, -0.08, -0.05, -0.02, -0.03, -0.02, 0.0, 0.02, 0.05, 0.1, 0.12, 0.1, 0.05, 0.02, 0.0, 0.02, 0.03, 0.05, 0.02, 0.0],
    330: [0.0, -0.02, -0.03, -0.05, -0.08, -0.1, -0.12, -0.1, -0.06, -0.03, 0.0, 0.02, 0.06, 0.12, 0.15, 0.16, 0.1, 0.02, -0.02, 0.0, 0.02, 0.03, 0.02, 0.0],
    360: [0.0, -0.02, -0.04, -0.06, -0.1, -0.12, -0.14, -0.12, -0.08, -0.04, 0.0, 0.03, 0.08, 0.12, 0.05, -0.16, -0.15, -0.16, -0.05, 0.0, 0.02, 0.02, 0.0, 0.02],
}
D_62 = {
    150: [0.05, 0.0, 0.02, 0.05, 0.1, 0.2, 0.25, 0.3, 0.22, 0.12, 0.05, 0.0, -0.05, -0.08, -0.05, 0.0, 0.05, 0.1, 0.22, 0.05, -0.1, -0.1, -0.08, -0.05],
    180: [0.0, 0.02, 0.03, 0.02, 0.08, 0.12, 0.15, 0.25, 0.18, 0.1, 0.04, -0.02, -0.08, -0.12, -0.1, -0.05, 0.0, 0.08, 0.15, 0.02, -0.08, -0.1, -0.06, -0.04],
    210: [0.02, 0.0, 0.02, 0.03, 0.05, 0.06, 0.1, 0.15, 0.12, 0.05, 0.0, -0.02, -0.06, -0.1, -0.08, -0.03, 0.0, 0.05, 0.08, 0.0, -0.08, -0.08, -0.05, -0.02],
    240: [0.02, 0.0, 0.0, 0.02, 0.02, 0.04, 0.06, 0.08, 0.05, 0.02, 0.0, -0.02, -0.04, -0.06, -0.02, 0.02, 0.02, 0.03, 0.05, 0.0, -0.05, -0.05, -0.03, 0.0],
    270: [0.0, 0.0, -0.02, 0.0, -0.02, -0.04, -0.02, 0.02, 0.0, -0.02, -0.02, 0.0, 0.02, 0.05, 0.08, 0.06, 0.04, 0.05, 0.03, 0.0, -0.02, 0.0, 0.0, 0.02],
    300: [0.0, -0.02, -0.03, -0.04, -0.05, -0.08, -0.06, -0.04, -0.03, -0.02, 0.0, 0.02, 0.05, 0.08, 0.12, 0.1, 0.06, 0.03, 0.0, -0.02, 0.0, 0.02, 0.02, 0.0],
    330: [0.0, -0.02, -0.04, -0.06, -0.08, -0.1, -0.12, -0.1, -0.07, -0.04, -0.02, 0.02, 0.06, 0.1, 0.12, 0.13, 0.1, 0.04, 0.0, -0.04, -0.02, 0.0, 0.02, 0.02],
    360: [0.0, -0.02, -0.04, -0.06, -0.1, -0.12, -0.14, -0.12, -0.1, -0.06, -0.02, 0.02, 0.05, 0.08, 0.1, 0.08, 0.02, -0.05, -0.24, -0.1, -0.05, 0.0, 0.02, 0.02],
}
D_48 = {
    150: [0.05, 0.0, 0.02, 0.05, 0.19, 0.22, 0.19, 0.2, 0.1, 0.02, 0.0, -0.05, -0.13, -0.15, -0.18, -0.12, 0.02, 0.19, 0.08, -0.13, -0.1, -0.08, -0.05, -0.02],
    180: [0.02, 0.0, 0.02, 0.03, 0.1, 0.18, 0.2, 0.15, 0.08, 0.02, -0.02, -0.06, -0.12, -0.14, -0.16, -0.12, 0.0, 0.15, 0.05, -0.1, -0.12, -0.1, -0.06, -0.04],
    210: [0.02, 0.0, 0.0, 0.0, 0.05, 0.1, 0.12, 0.08, 0.04, 0.0, -0.02, -0.04, -0.08, -0.1, -0.12, -0.1, 0.0, 0.1, 0.02, -0.08, -0.1, -0.08, -0.05, -0.04],
    240: [0.02, 0.0, 0.0, -0.02, 0.0, 0.02, 0.04, 0.02, 0.0, -0.02, -0.02, 0.0, 0.0, -0.02, -0.04, -0.02, 0.0, 0.05, 0.02, -0.05, -0.06, -0.04, -0.02, -0.02],
    270: [0.0, -0.02, -0.02, -0.03, -0.04, -0.05, -0.06, -0.08, -0.06, -0.03, 0.0, 0.03, 0.06, 0.08, 0.1, 0.1, 0.06, 0.04, 0.02, 0.0, -0.02, 0.0, 0.0, 0.0],
    300: [0.0, -0.02, -0.03, -0.04, -0.06, -0.08, -0.1, -0.14, -0.1, -0.04, 0.0, 0.05, 0.1, 0.15, 0.18, 0.16, 0.1, 0.04, 0.02, 0.02, 0.0, 0.02, 0.02, 0.02],
    330: [0.0, -0.02, -0.03, -0.05, -0.07, -0.1, -0.14, -0.18, -0.12, -0.04, 0.03, 0.08, 0.14, 0.2, 0.24, 0.22, 0.12, 0.02, 0.03, 0.05, 0.04, 0.03, 0.04, 0.04],
    360: [0.0, -0.02, -0.04, -0.05, -0.08, -0.12, -0.16, -0.21, -0.12, -0.02, 0.06, 0.12, 0.18, 0.24, 0.28, 0.26, 0.15, 0.02, 0.05, 0.08, 0.06, 0.05, 0.06, 0.06],
}
D_34 = {
    150: [0.05, 0.0, 0.02, 0.05, 0.13, 0.18, 0.22, 0.1, 0.0, -0.05, -0.02, 0.0, -0.1, -0.24, -0.1, 0.0, 0.05, -0.02, -0.15, -0.25, -0.3, -0.15, -0.05, 0.0],
    180: [0.02, 0.0, 0.02, 0.05, 0.1, 0.15, 0.2, 0.15, 0.02, -0.04, 0.0, 0.05, 0.02, -0.05, 0.05, 0.02, 0.1, 0.05, -0.05, -0.12, -0.15, -0.08, -0.04, -0.02],
    210: [0.02, 0.0, 0.02, 0.02, 0.05, 0.1, 0.15, 0.1, 0.0, -0.02, 0.02, 0.05, 0.06, 0.05, 0.1, 0.05, 0.12, 0.08, 0.02, -0.05, -0.08, -0.05, -0.02, 0.0],
    240: [0.02, 0.0, 0.0, 0.0, 0.0, 0.02, 0.05, 0.02, -0.02, 0.0, 0.03, 0.06, 0.08, 0.1, 0.12, 0.1, 0.08, 0.06, 0.04, 0.0, -0.02, -0.02, 0.0, 0.0],
    270: [0.02, 0.0, -0.02, -0.02, -0.04, -0.06, -0.08, -0.1, -0.05, 0.0, 0.05, 0.1, 0.15, 0.2, 0.24, 0.22, 0.16, 0.12, 0.08, 0.04, 0.02, 0.02, 0.02, 0.0],
    300: [0.0, 0.0, -0.02, -0.03, -0.06, -0.1, -0.15, -0.2, -0.1, 0.02, 0.08, 0.15, 0.22, 0.3, 0.38, 0.33, 0.25, 0.18, 0.12, 0.06, 0.05, 0.05, 0.04, 0.02],
    330: [0.0, 0.0, -0.02, -0.04, -0.08, -0.12, -0.2, -0.26, -0.12, 0.04, 0.12, 0.2, 0.3, 0.42, 0.52, 0.45, 0.35, 0.24, 0.16, 0.08, 0.06, 0.06, 0.05, 0.03],
    360: [0.0, 0.0, -0.02, -0.04, -0.1, -0.15, -0.22, -0.3, -0.15, 0.05, 0.15, 0.25, 0.35, 0.48, 0.6, 0.5, 0.39, 0.28, 0.19, 0.1, 0.08, 0.08, 0.06, 0.04],
}
D_20 = {
    150: [0.05, 0.0, -0.08, 0.02, 0.1, 0.05, 0.15, 0.1, 0.0, -0.05, -0.02, 0.0, -0.05, -0.1, -0.2, -0.12, -0.05, 0.0, -0.1, -0.3, -0.28, -0.1, -0.2, -0.05],
    180: [0.02, 0.0, 0.02, 0.05, 0.1, 0.15, 0.05, 0.18, 0.05, 0.0, 0.08, 0.15, 0.2, 0.3, 0.12, 0.2, 0.15, 0.1, 0.05, -0.05, -0.2, -0.1, -0.15, -0.05],
    210: [0.02, 0.0, 0.02, 0.02, 0.08, 0.12, 0.1, 0.15, 0.02, 0.05, 0.15, 0.25, 0.35, 0.42, 0.38, 0.3, 0.28, 0.15, 0.08, 0.02, -0.05, 0.0, -0.08, -0.02],
    240: [0.02, 0.0, 0.0, 0.0, 0.02, 0.05, 0.05, 0.0, 0.0, 0.1, 0.2, 0.32, 0.42, 0.5, 0.55, 0.48, 0.38, 0.28, 0.15, 0.12, 0.08, 0.05, 0.03, 0.0],
    270: [0.02, 0.0, 0.0, -0.02, -0.03, -0.05, -0.08, -0.1, -0.02, 0.15, 0.28, 0.42, 0.55, 0.65, 0.72, 0.62, 0.5, 0.35, 0.2, 0.18, 0.14, 0.1, 0.08, 0.02],
    300: [0.0, 0.0, 0.0, -0.02, -0.04, -0.06, -0.1, -0.15, -0.04, 0.2, 0.35, 0.55, 0.72, 0.85, 0.95, 0.82, 0.65, 0.45, 0.25, 0.25, 0.2, 0.15, 0.12, 0.03],
    330: [0.0, 0.0, 0.0, -0.02, -0.05, -0.08, -0.14, -0.2, -0.05, 0.25, 0.45, 0.7, 0.9, 1.05, 1.15, 0.98, 0.8, 0.58, 0.3, 0.32, 0.26, 0.2, 0.18, 0.05],
    360: [0.0, 0.0, 0.02, -0.02, -0.05, -0.09, -0.15, -0.23, -0.06, 0.29, 0.5, 0.8, 1.0, 1.15, 1.26, 1.03, 0.85, 0.63, 0.34, 0.37, 0.3, 0.23, 0.2, 0.06],
}
D_06 = {
    150: [None, None, None, None, None, None, None, None, -0.05, 0.05, 0.1, None, None, None, None, None, None, None, None, None, None, None, None, None],
    180: [None, None, None, None, None, None, None, None, -0.1, 0.05, 0.35, 0.68, None, None, None, None, None, None, None, None, None, None, None, None],
    210: [None, None, None, None, None, None, None, None, -0.1, 0.1, 0.5, 1.1, 1.52, 1.3, 1.1, 1.05, 1.0, 0.55, 0.25, 0.18, 0.05, -0.3, 0.1, -0.1],
    240: [0.0, 0.05, 0.0, -0.05, -0.1, -0.08, -0.15, -0.12, -0.05, 0.35, 0.9, 1.3, 1.6, 1.55, 1.45, 1.3, 1.05, 0.75, 0.45, 0.25, 0.2, 0.12, 0.05, 0.0],
    270: [0.05, 0.02, 0.05, -0.05, -0.08, -0.1, -0.25, -0.1, 0.0, 0.5, 1.1, 1.5, 1.7, 1.72, 1.65, 1.5, 1.2, 0.9, 0.6, 0.4, 0.3, 0.22, 0.15, 0.05],
    300: [0.1, 0.05, 0.0, -0.02, -0.1, -0.12, -0.15, -0.08, 0.05, 0.65, 1.35, 1.8, 2.0, 2.12, 2.1, 1.95, 1.6, 1.22, 0.88, 0.6, 0.45, 0.35, 0.25, 0.1],
    330: [0.12, 0.05, 0.02, -0.05, -0.15, -0.1, -0.2, -0.1, 0.08, 0.75, 1.5, 1.95, 2.15, 2.3, 2.25, 2.1, 1.75, 1.35, 1.0, 0.68, 0.52, 0.42, 0.3, 0.12],
    360: [0.15, 0.08, 0.03, -0.05, -0.35, -0.15, -0.12, -0.1, 0.1, 0.8, 1.55, 2.0, 2.2, 2.38, 2.3, 2.15, 1.8, 1.4, 1.05, 0.7, 0.55, 0.45, 0.32, 0.13],
}

ROW_A = [A_1AM, A_3AM, A_5AM, A_7AM, A_9AM, A_11AM]
ROW_B = [B_1PM, B_3PM, B_5PM, B_7PM, B_9PM, B_11PM]
ROW_C = [C_160, C_200, C_240, C_280, C_320, C_360]
ROW_D = [D_76, D_62, D_48, D_34, D_20, D_06]

# ------------------------------------------------------------- colours
INSOL_COLORS = [
    "#4a4868", "#332a78", "#1c1e80", "#0e2e8c", "#0a4298", "#0a58ac", "#0a6cc0",
    "#1282d4", "#2a9ce6", "#62b6e4", "#8cc6c8", "#b0d6a4", "#d8e67c", "#f6ee44",
    "#f8d62a", "#f6b624", "#f0901e", "#e6641a", "#d4341e", "#b0604e",
]
WIND_COLORS = [
    "#a86a5c", "#c83a2a", "#d83a20", "#e25a1c", "#ec7a1e", "#f29a22", "#f6b426",
    "#f8cc2c", "#f8e03a", "#f6ee50", "#e8ec70", "#c8e090", "#a4d0a8", "#88c4c4",
    "#64b4e0", "#3aa2ea", "#1a88dc", "#0a70c8", "#0a5cb0", "#0a4a98",
]
INSOL_D_COLORS = [
    "#2a2070", "#0e2e8c", "#0a4a9c", "#0a6cc0", "#2a9ce6", "#70bce0",
    "#98ccbc", "#d8e67c", "#f8ec40", "#f6b624", "#ec7a1e", "#d4301c",
]

insol_cmap = ListedColormap(INSOL_COLORS)
insol_norm = BoundaryNorm(np.arange(0, 401, 20), insol_cmap.N)
wind_cmap = ListedColormap(WIND_COLORS)
wind_norm = BoundaryNorm(np.arange(0, 10.01, 0.5), wind_cmap.N)
insol_d_cmap = ListedColormap(INSOL_D_COLORS)
insol_d_norm = BoundaryNorm(np.linspace(140, 370, 13), insol_d_cmap.N)

# ------------------------------------------------------------- layout
W, H = 1917, 1135
COL_LEFT = [79.5, 373.5, 667.5, 961.5, 1255.5, 1549.5]
PANEL_W = 224
ROW_TOP = [9, 276, 583, 849]
PANEL_H = 202

TICK_FS = 23
TITLE_FS = 25.5
SPINE = "#3c3c3c"

fig = plt.figure(figsize=(W / 100, H / 100), dpi=100)


def panel(col, row):
    x0 = COL_LEFT[col] / W
    y0 = 1 - (ROW_TOP[row] + PANEL_H) / H
    ax = fig.add_axes([x0, y0, PANEL_W / W, PANEL_H / H])
    for s in ax.spines.values():
        s.set_color(SPINE)
        s.set_linewidth(1.3)
    ax.tick_params(direction="in", top=True, right=True, length=6, width=1.2,
                   color=SPINE, labelsize=TICK_FS, pad=3)
    ax.set_ylim(-0.5, 3.0)
    ax.set_yticks([0, 1, 2])
    return ax


def draw_lines(ax, x, curves, cmap, norm):
    # ascending bin order: last-drawn curves (highest bin) end up on top
    for key in sorted(curves):
        y = np.array(curves[key], dtype=float)
        ax.plot(x, y, color=cmap(norm(key)), lw=1.1, solid_joinstyle="round")


for r, (rows, titles) in enumerate([(ROW_A, ROW_A_TITLES), (ROW_B, ROW_B_TITLES)]):
    for c in range(6):
        ax = panel(c, r)
        draw_lines(ax, WIND_SPEED, rows[c], insol_cmap, insol_norm)
        ax.set_xlim(0, 10)
        ax.set_xticks([0, 5, 10])
        ax.text(0.885, 0.76, titles[c], transform=ax.transAxes, ha="right",
                va="center", fontsize=TITLE_FS)

for c in range(6):
    ax = panel(c, 2)
    draw_lines(ax, HOURS, ROW_C[c], wind_cmap, wind_norm)
    ax.set_xlim(1, 24)
    ax.set_xticks([5, 10, 15, 20])
    ax.text(0.03, 0.83, f"{ROW_C_INSOL[c]} Wm$^{{-2}}$", transform=ax.transAxes,
            ha="left", va="center", fontsize=24)

    ax = panel(c, 3)
    draw_lines(ax, HOURS, ROW_D[c], insol_d_cmap, insol_d_norm)
    ax.set_xlim(1, 24)
    ax.set_xticks([5, 10, 15, 20])
    ax.text(0.015, 0.80, f"{ROW_D_WIND[c]:.1f} ms$^{{-1}}$", transform=ax.transAxes,
            ha="left", va="center", fontsize=24.5)

# ------------------------------------------------------------- colorbars
CB_X, CB_W = 1784 / W, 21 / W


def colorbar(top, bottom, cmap, norm, ticks):
    cax = fig.add_axes([CB_X, 1 - bottom / H, CB_W, (bottom - top) / H])
    cb = fig.colorbar(ScalarMappable(norm=norm, cmap=cmap), cax=cax,
                      drawedges=True, ticks=ticks)
    cb.outline.set_edgecolor("black")
    cb.outline.set_linewidth(1.2)
    cb.dividers.set_color("black")
    cb.dividers.set_linewidth(1.2)
    cax.tick_params(length=0, labelsize=26, pad=3)
    return cb


colorbar(15, 472, insol_cmap, insol_norm, [0, 100, 200, 300, 400])
colorbar(584, 785, wind_cmap, wind_norm, [0, 5, 10])
colorbar(850, 1051, insol_d_cmap, insol_d_norm, [150, 200, 250, 300, 350])

fig.text(1891 / W, 1 - 229 / H, "Insolation (Wm$^{-2}$)", rotation=90,
         ha="center", va="center", fontsize=28)
fig.text(1891 / W, 1 - 660 / H, "Wind (ms$^{-1}$)", rotation=90,
         ha="center", va="center", fontsize=26)
fig.text(1891 / W, 1 - 943 / H, "Insolation (Wm$^{-2}$)", rotation=90,
         ha="center", va="center", fontsize=26)

# ------------------------------------------------------------- labels
for letter, yc in zip("ABCD", [55, 302, 758, 1027]):
    fig.text(33 / W, 1 - yc / H, letter, ha="center", va="center", fontsize=36)

fig.text(30 / W, 1 - 556 / H, "TMI - OI SST (°C)", rotation=90,
         ha="center", va="center", fontsize=26.5)
fig.text(972 / W, 1 - 541 / H, "Wind Speed (ms$^{-1}$)",
         ha="center", va="center", fontsize=24)
fig.text(935 / W, 1 - 1110 / H, "Local Time (Hrs)",
         ha="center", va="center", fontsize=24)

# thin cyan frame strips at the image sides
fig.add_artist(Rectangle((0, 0), 3 / W, 1, transform=fig.transFigure,
                         color="#5ec8f6", lw=0))
fig.add_artist(Rectangle((1909 / W, 0), 8 / W, 1, transform=fig.transFigure,
                         color="#5ec8f6", lw=0))

fig.savefig("out.png", dpi=100)
